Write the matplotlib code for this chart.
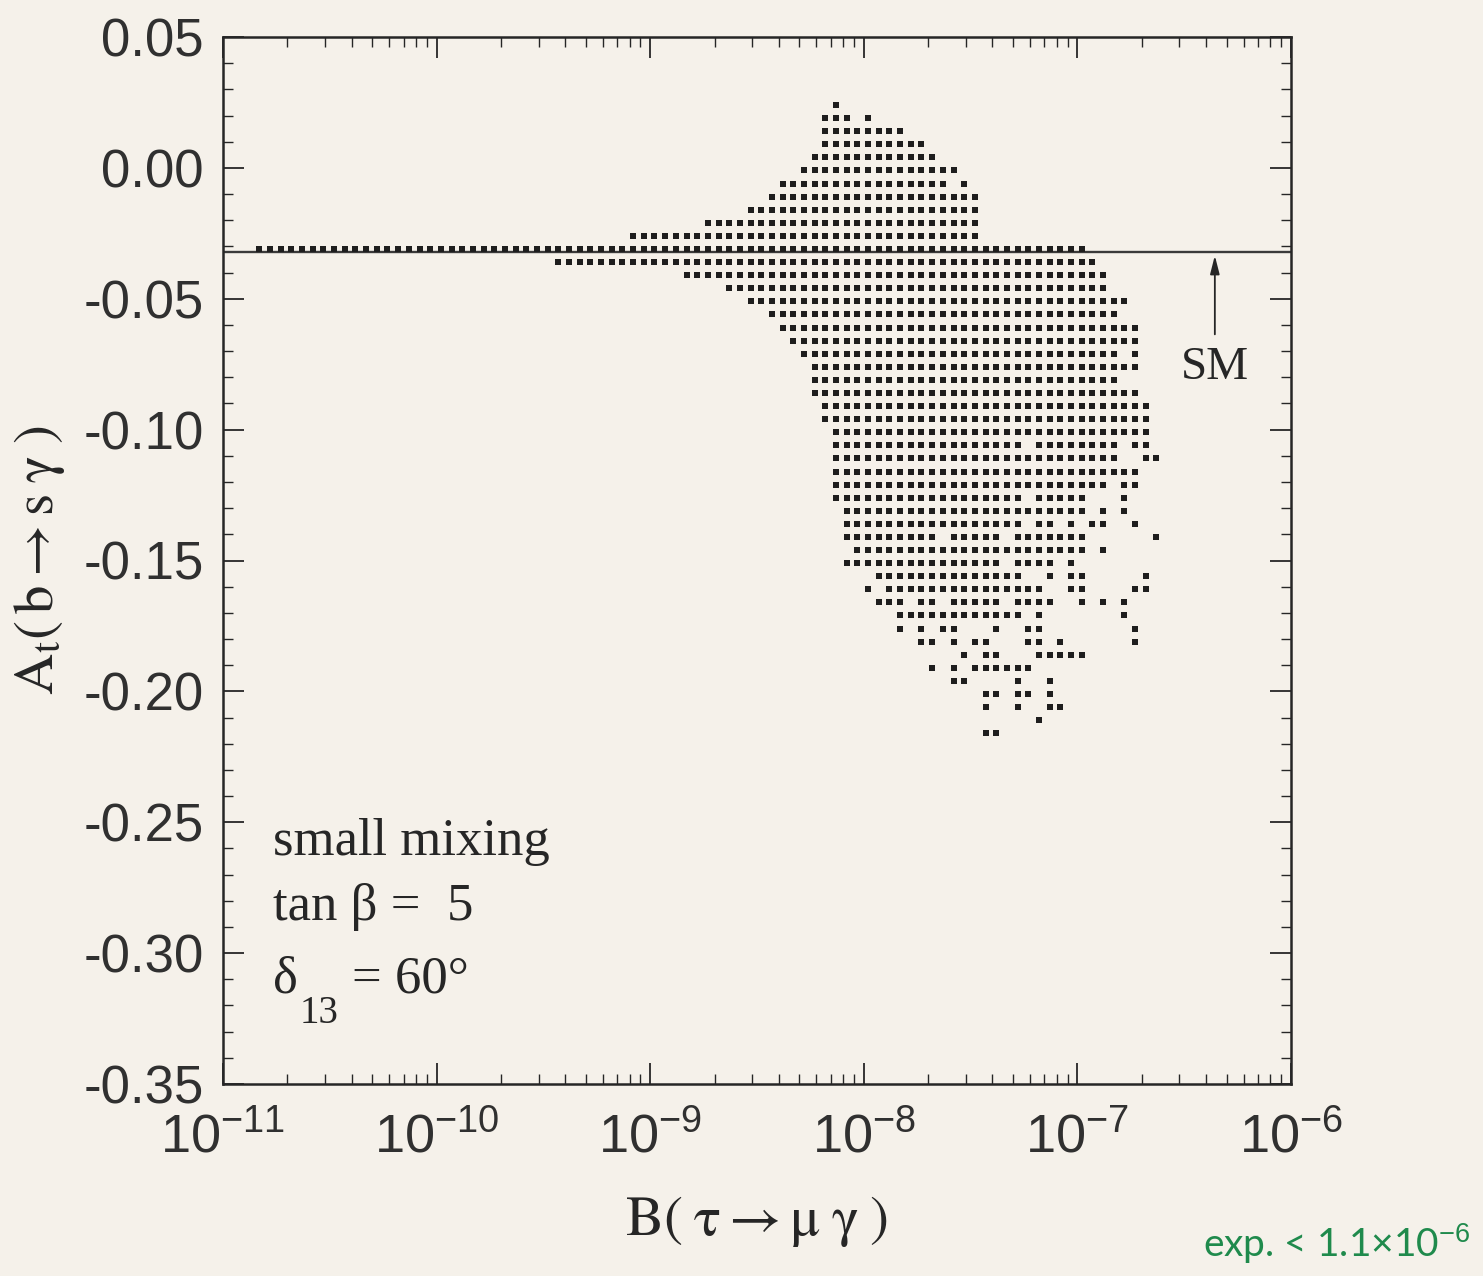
import numpy as np
import matplotlib
matplotlib.use('Agg')
from matplotlib import pyplot as plt
from matplotlib.ticker import MultipleLocator, LogLocator, FixedLocator, NullFormatter, FuncFormatter


# The scan points sit on a regular grid: column c is at log10(B) = grid_log0 + grid_step*c
grid_log0 = -9.43
grid_step = 0.05

# one entry per row of points, read top to bottom
row_y = [0.024, 0.019, 0.014, 0.009, 0.004, -0.001, -0.006, -0.011, -0.016, -0.021,
         -0.026, -0.031, -0.036, -0.041, -0.046, -0.051, -0.056, -0.061, -0.066, -0.071,
         -0.076, -0.081, -0.086, -0.091, -0.096, -0.101, -0.106, -0.111, -0.116, -0.121,
         -0.126, -0.131, -0.136, -0.141, -0.146, -0.151, -0.156, -0.161, -0.166, -0.171,
         -0.176, -0.181, -0.186, -0.191, -0.196, -0.201, -0.206, -0.211, -0.216]
# occupied grid columns in each row ("a-b" = run of columns a..b)
row_runs = [
    '26', '25-27 29', '25-32', '25-34', '24-35', '23-37', '21-36 38', '20-39', '18-39', '14-39',
    '7-39', '-28:49', '0-50', '12-51', '16-51', '18-53', '20-52', '21-54', '22-54', '23-52 54',
    '24-54', '24-52', '24-54', '25-55', '25-55', '26-55', '26-43 45-52 54-55', '26-52 55-56',
    '26-54', '26-51 53-54',
    '26-43 45-49 53', '27-49 51 53', '27-43 45-46 48 50-51 54', '27-35 37-41 43-49 56',
    '28-49 51', '27-41 43-46 48', '30-43 46 48-49 55', '29 31-45 48-49 54-55',
    '30-32 34-35 37-41 43-46 49 51 53', '32-43 45 53', '32 34 36-37 41 44-45 54',
    '34-35 37 39-40 44-45 47 54', '38 40-41 45-49', '35 37 39-44', '37-38 43 46',
    '40-41 43-44 46', '40 43 46-47', '45', '40-41',
]

sm_value = -0.032          # Standard Model line
sm_arrow_x = 4.4e-7
y_ticks = [-0.35, -0.30, -0.25, -0.20, -0.15, -0.10, -0.05, 0.00, 0.05]
x_ticks = [1e-11, 1e-10, 1e-9, 1e-8, 1e-7, 1e-6]


def parse_runs(text):
    """Turn '25-27 29' style text into a list of column numbers."""
    cols = []
    for part in text.split():
        if ':' in part:
            a, b = part.split(':')
        elif '-' in part[1:]:
            i = part.index('-', 1)
            a, b = part[:i], part[i + 1:]
        else:
            a = b = part
        cols += list(range(int(a), int(b) + 1))
    return cols


def main():
    bg = '#f5f1ea'
    ink = '#262626'
    plt.rcParams['mathtext.fontset'] = 'custom'
    plt.rcParams['mathtext.rm'] = 'Liberation Sans'
    plt.rcParams['mathtext.it'] = 'Liberation Sans:italic'

    fig = plt.figure(figsize=(14.83, 12.76), dpi=100, facecolor=bg)
    ax = fig.add_axes([223 / 1483, 1 - 1084 / 1276, 1068 / 1483, 1047 / 1276])
    ax.set_facecolor(bg)

    # scatter of the parameter scan
    xs, ys = [], []
    for y, runs in zip(row_y, row_runs):
        for c in parse_runs(runs):
            xs.append(10 ** (grid_log0 + grid_step * c))
            ys.append(y)
    ax.plot(xs, ys, 's', ms=4.1, color='#1e1e1e', mew=0, zorder=3)

    ax.axhline(sm_value, color='#3a3a3a', lw=1.7, zorder=2)
    ax.annotate('', xy=(sm_arrow_x, -0.0335), xytext=(sm_arrow_x, -0.0636),
                arrowprops=dict(arrowstyle='-|>,head_length=1.1,head_width=0.28',
                                color=ink, lw=1.3, shrinkA=0, shrinkB=0))
    ax.text(sm_arrow_x, -0.0765, 'SM', ha='center', va='center', fontsize=34,
            family=['Liberation Serif', 'DejaVu Serif'], color=ink)

    ax.set_xscale('log')
    ax.set_xlim(1e-11, 1e-6)
    ax.set_ylim(-0.35, 0.05)

    ax.xaxis.set_major_locator(FixedLocator(x_ticks))
    ax.xaxis.set_minor_locator(LogLocator(base=10, subs=np.arange(2, 10)))
    ax.xaxis.set_minor_formatter(NullFormatter())
    ax.xaxis.set_major_formatter(FuncFormatter(
        lambda v, p: r'$\mathregular{10^{%d}}$' % round(np.log10(v))))
    ax.yaxis.set_major_locator(FixedLocator(y_ticks))
    ax.yaxis.set_minor_locator(MultipleLocator(0.01))
    ax.yaxis.set_major_formatter(FuncFormatter(lambda v, p: '%.2f' % v))

    ax.tick_params(which='both', direction='in', top=True, right=True, color=ink)
    ax.tick_params(which='major', length=15, width=1.3)
    ax.tick_params(which='minor', length=7, width=1.0)
    ax.tick_params(axis='y', which='major', labelsize=38, pad=14, labelcolor='#303030')
    ax.tick_params(axis='x', which='major', labelsize=39, pad=20, labelcolor='#303030')
    for t in ax.get_xticklabels() + ax.get_yticklabels():
        t.set_family(['Liberation Sans', 'DejaVu Sans'])
    for s in ax.spines.values():
        s.set_linewidth(1.8)
        s.set_color(ink)

    ax.set_xlabel(r'$\mathrm{B(\;\tau \rightarrow \mu\;\gamma\;)}$', fontsize=41,
                  color=ink, labelpad=22, math_fontfamily='stix')
    ax.set_ylabel(r'$\mathrm{A_t(\,b \rightarrow s\;\gamma\;)}$', fontsize=41,
                  color=ink, labelpad=12, math_fontfamily='stix')

    serif = ['Liberation Serif', 'DejaVu Serif']
    ax.text(0.047, 0.219, 'small mixing', transform=ax.transAxes, fontsize=38,
            family=serif, color=ink)
    ax.text(0.047, 0.157, 'tan \u03b2 =  5', transform=ax.transAxes, fontsize=38,
            family=serif, color=ink)
    ax.text(0.047, 0.087, '\u03b4', transform=ax.transAxes, fontsize=38,
            family=serif, color=ink)
    ax.text(0.072, 0.058, '13', transform=ax.transAxes, fontsize=28,
            family=serif, color=ink)
    ax.text(0.121, 0.087, '= 60\u00b0', transform=ax.transAxes, fontsize=38,
            family=serif, color=ink)

    # handwritten note on the scan
    fig.text(1203 / 1483, 1 - 1257 / 1276, r'exp. < 1.1$\times$10$^{-6}$',
             fontsize=28, color='#1f8a4c', family=['Lato', 'DejaVu Sans'])

    fig.savefig('out.png', dpi=100, facecolor=bg)


if __name__ == '__main__':
    main()
